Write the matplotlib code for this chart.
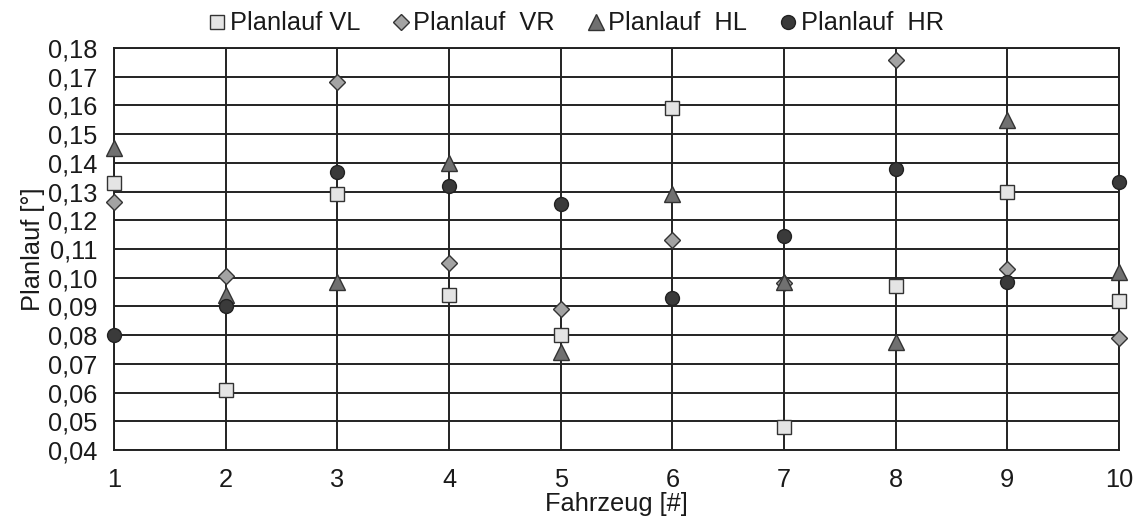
import matplotlib
matplotlib.use("Agg")
import matplotlib.pyplot as plt
from matplotlib.ticker import FuncFormatter

plt.rcParams['font.family'] = ['Liberation Sans', 'DejaVu Sans']

fahrzeug = [1, 2, 3, 4, 5, 6, 7, 8, 9, 10]
planlauf_vl = [0.133, 0.061, 0.129, 0.094, 0.080, 0.159, 0.048, 0.097, 0.130, 0.092]
planlauf_vr = [0.1265, 0.1005, 0.168, 0.105, 0.089, 0.113, 0.098, 0.1758, 0.103, 0.079]
planlauf_hl = [0.145, 0.094, 0.0985, 0.140, 0.074, 0.129, 0.0985, 0.0775, 0.155, 0.102]
planlauf_hr = [0.080, 0.090, 0.1368, 0.132, 0.1257, 0.093, 0.1146, 0.1378, 0.0985, 0.1333]
labels = ["Planlauf VL", "Planlauf  VR", "Planlauf  HL", "Planlauf  HR"]
y_ticks = [0.04, 0.05, 0.06, 0.07, 0.08, 0.09, 0.10, 0.11, 0.12, 0.13, 0.14, 0.15, 0.16, 0.17, 0.18]

fig = plt.figure(figsize=(11.38, 5.21), dpi=100)
ax = fig.add_axes([0.1002, 0.1363, 0.8831, 0.7716])

edge = '#333333'
fs = 18.3
ax.plot(fahrzeug, planlauf_vl, ls='none', marker='s', ms=10.5, mfc='#e4e4e4', mec=edge, mew=1.0, label=labels[0], zorder=3, clip_on=False)
ax.plot(fahrzeug, planlauf_vr, ls='none', marker='D', ms=8.5, mfc='#a3a3a3', mec=edge, mew=1.0, label=labels[1], zorder=3, clip_on=False)
ax.plot(fahrzeug, planlauf_hl, ls='none', marker='^', ms=11, mfc='#707070', mec=edge, mew=1.0, label=labels[2], zorder=3, clip_on=False)
ax.plot(fahrzeug, planlauf_hr, ls='none', marker='o', ms=10, mfc='#3a3a3a', mec='#222222', mew=1.0, label=labels[3], zorder=3, clip_on=False)

ax.set_xlim(1, 10)
ax.set_ylim(0.04, 0.18)
ax.set_xticks(fahrzeug)
ax.set_yticks(y_ticks)
ax.yaxis.set_major_formatter(FuncFormatter(lambda v, p: f"{v:.2f}".replace('.', ',')))
ax.grid(True, color='#222222', lw=1.4)
ax.set_axisbelow(True)
for s in ax.spines.values():
    s.set_color('#222222')
    s.set_linewidth(1.4)
ax.tick_params(length=0, labelsize=fs, colors='#1a1a1a')
ax.tick_params(axis='x', pad=13)
ax.tick_params(axis='y', pad=12)

ax.set_xlabel("Fahrzeug [#]", fontsize=fs, color='#1a1a1a', labelpad=0)
ax.set_ylabel("Planlauf [°]", fontsize=fs, color='#1a1a1a', labelpad=2)

leg = fig.legend(loc='center', bbox_to_anchor=(0.505, 0.955), ncol=4, frameon=False,
                 fontsize=fs, handletextpad=0.05, columnspacing=1.15, handlelength=0.9,
                 borderaxespad=0.0)
for t in leg.get_texts():
    t.set_color('#1a1a1a')

fig.savefig("out.png", dpi=100)
